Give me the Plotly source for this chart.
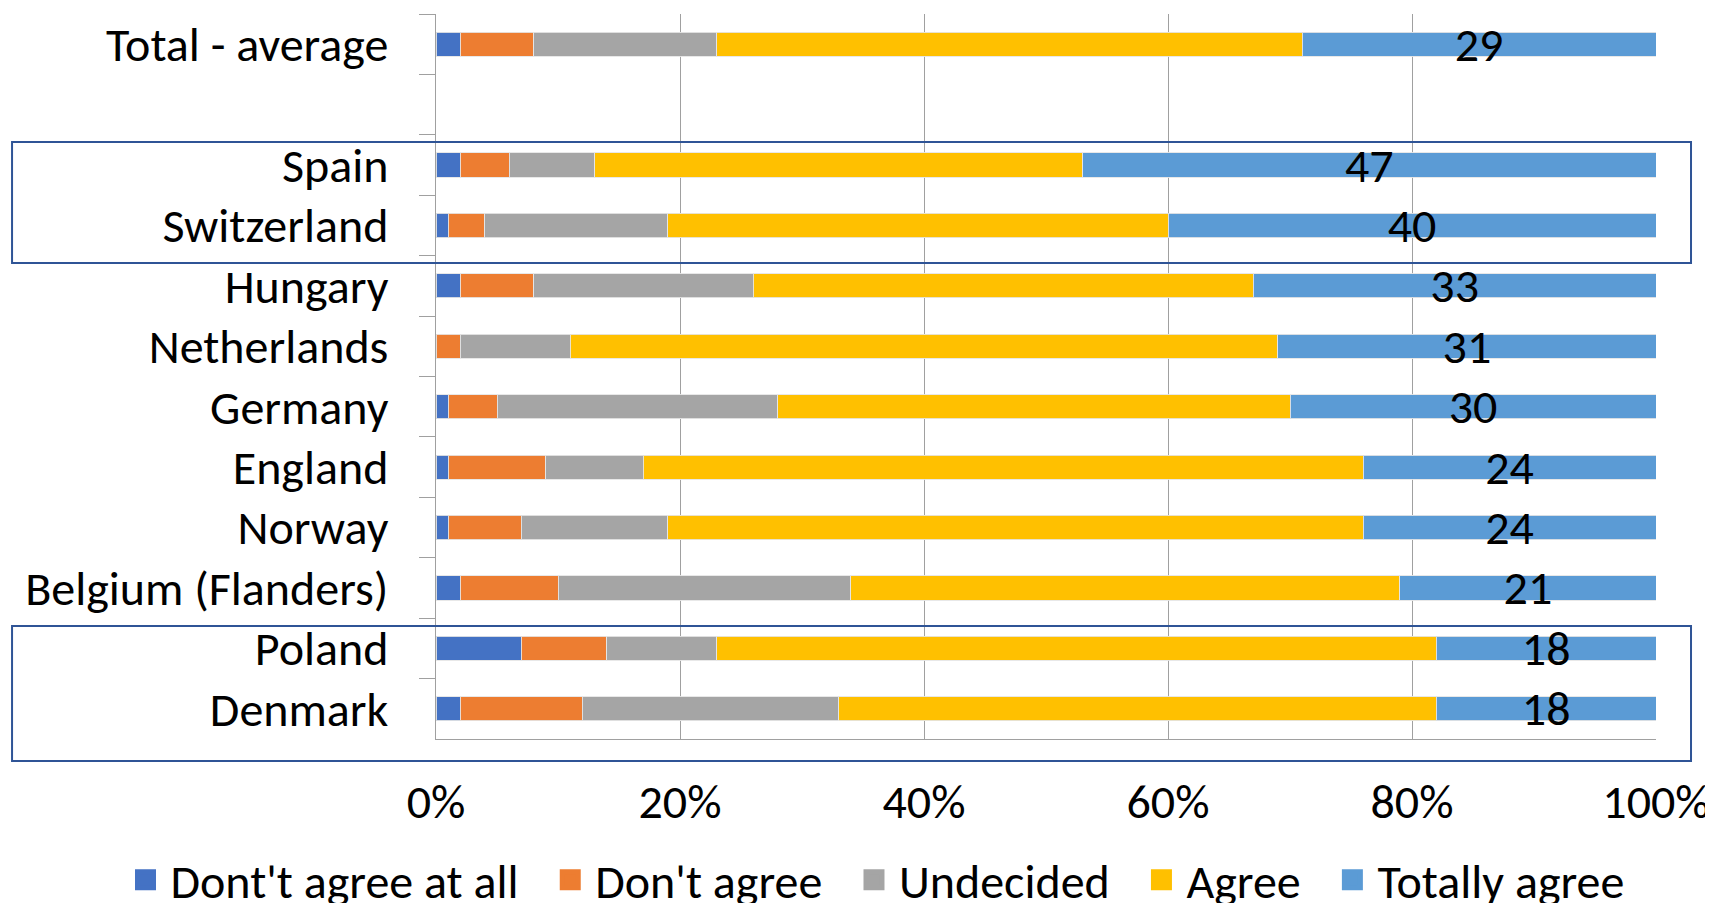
import plotly.graph_objects as go

categories = ["Total - average", " ", "Spain", "Switzerland", "Hungary", "Netherlands",
              "Germany", "England", "Norway", "Belgium (Flanders)", "Poland", "Denmark"]

dont_agree_at_all = [2, None, 2, 1, 2, 0, 1, 1, 1, 2, 7, 2]
dont_agree        = [6, None, 4, 3, 6, 2, 4, 8, 6, 8, 7, 10]
undecided         = [15, None, 7, 15, 18, 9, 23, 8, 12, 24, 9, 21]
agree             = [48, None, 40, 41, 41, 58, 42, 59, 57, 45, 59, 49]
totally_agree     = [29, None, 47, 40, 33, 31, 30, 24, 24, 21, 18, 18]

series_names = ["Dont't agree at all", "Don't agree", "Undecided", "Agree", "Totally agree"]
series_values = [dont_agree_at_all, dont_agree, undecided, agree, totally_agree]
colors = ["#4472C4", "#ED7D31", "#A5A5A5", "#FFC000", "#5B9BD5"]

x_ticks = [0, 20, 40, 60, 80, 100]

FONT = "Calibri, Carlito, 'Open Sans', sans-serif"
FS = 48
NBSP = "\u00a0"

fig = go.Figure()
for i, (name, vals, col) in enumerate(zip(series_names, series_values, colors)):
    is_last = i == len(series_names) - 1
    fig.add_trace(go.Bar(
        y=categories, x=vals, name=name, orientation="h",
        marker=dict(color=col, line=dict(color="rgba(230,230,230,0.9)", width=1)),
        showlegend=False,
        text=[("" if v is None else str(v)) for v in vals] if is_last else None,
        texttemplate="%{text}" if is_last else None,
        textposition="inside" if is_last else "none",
        insidetextanchor="middle",
        textangle=0,
        constraintext="none",
        textfont=dict(family=FONT, size=FS, color="black"),
        hoverinfo="skip",
    ))
    fig.add_trace(go.Scatter(
        x=[None], y=[None], mode="markers",
        name=name + ("" if is_last else NBSP * 2),
        marker=dict(symbol="square", size=16, color=col, line=dict(color=col, width=5)),
        showlegend=True, hoverinfo="skip",
    ))

# page has an 8px body margin; figure sized/offset to compensate
fig.update_layout(
    width=1705, height=895,
    margin=dict(l=428, r=57, t=6, b=164, autoexpand=False),
    barmode="stack", bargap=0.6,
    plot_bgcolor="white", paper_bgcolor="white",
    font=dict(family=FONT, size=FS, color="black"),
    legend=dict(orientation="h", xref="paper", x=-0.2586, xanchor="left",
                yref="paper", y=-0.1945, yanchor="middle",
                font=dict(family=FONT, size=FS, color="black"),
                itemsizing="trace", traceorder="normal", itemwidth=40,
                bgcolor="rgba(0,0,0,0)"),
    shapes=[
        dict(type="rect", xref="paper", yref="paper", x0=-0.3475, x1=1.0287,
             y0=0.6566, y1=0.8234, line=dict(color="#2F5496", width=2), fillcolor="rgba(0,0,0,0)"),
        dict(type="rect", xref="paper", yref="paper", x0=-0.3475, x1=1.0287,
             y0=-0.0303, y1=0.1559, line=dict(color="#2F5496", width=2), fillcolor="rgba(0,0,0,0)"),
    ],
)

fig.update_xaxes(
    range=[0, 100], tickvals=x_ticks, ticktext=[f"{v}%" for v in x_ticks],
    showgrid=True, gridcolor="#A0A0A0", gridwidth=1,
    showline=True, linecolor="#A0A0A0", linewidth=1,
    ticks="", ticklabelstandoff=20, zeroline=False, tickangle=0,
    ticklabeloverflow="allow",
    tickfont=dict(family=FONT, size=FS, color="black"),
)
fig.update_yaxes(
    categoryorder="array", categoryarray=categories, autorange="reversed",
    showgrid=False, showline=True, linecolor="#A0A0A0", linewidth=1,
    ticks="outside", tickson="boundaries", ticklen=16, tickcolor="#A0A0A0", tickwidth=1,
    ticklabelstandoff=37,
    tickfont=dict(family=FONT, size=FS, color="black"),
)

fig.write_html("out.html")
